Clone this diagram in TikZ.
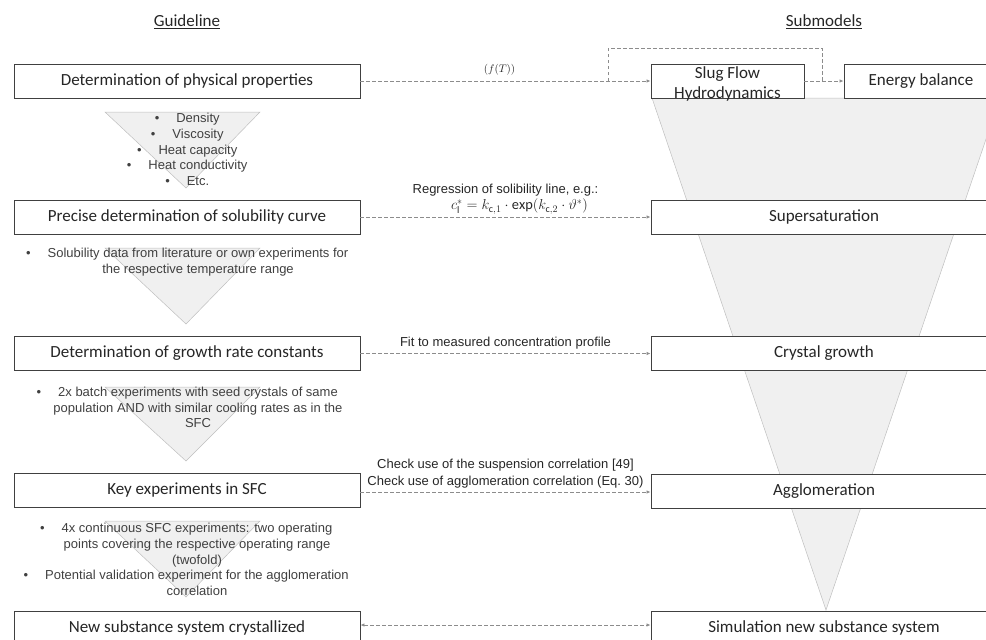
\documentclass[tikz,border=0pt]{standalone}
\usepackage{fontspec}
\setmainfont{Carlito}
\newfontfamily\arialf{Liberation Sans}
\usetikzlibrary{arrows.meta}
\definecolor{boxc}{HTML}{404040}
\definecolor{txt}{HTML}{262626}
\definecolor{notec}{HTML}{404040}
\definecolor{dashc}{HTML}{8C8C8C}
\definecolor{funf}{HTML}{F0F0F0}
\definecolor{fund}{HTML}{BFBFBF}
\begin{document}
\begin{tikzpicture}[x=1pt,y=-1pt,
  boxtext/.style={font=\fontsize{17}{20}\selectfont, text=txt, inner sep=0pt, align=center},
  box/.style={draw=boxc, fill=white, line width=0.9pt, minimum height=34pt, inner sep=0pt, boxtext},
  lbox/.style={box, minimum width=346pt},
  sbox/.style={box, minimum width=153pt},
  rbox/.style={box, minimum width=346pt},
  funnel/.style={fill=funf, draw=fund, line width=0.5pt},
  lnk/.style={draw=dashc, dash pattern=on 3.5pt off 2.5pt, line width=0.8pt},
  tip/.style={-{Latex[length=4pt,width=3.5pt]}},
  note/.style={font=\arialf\fontsize{13}{15.8}\selectfont, text=notec, align=center, inner sep=0pt},
  lbl/.style={font=\arialf\fontsize{13}{17}\selectfont, text=txt, align=center, inner sep=0pt},
  mlbl/.style={font=\fontsize{14.4}{16}\selectfont, text=txt, inner sep=0pt},
  head/.style={font=\fontsize{17}{20}\selectfont, text=txt, inner sep=0pt},
]
\useasboundingbox (0,0) rectangle (986,640);

% funnels
\draw[funnel] (652,98) -- (1000,98) -- (826,610) -- cycle;
\draw[funnel] (105,112) -- (260,112) -- (186,188) -- cycle;
\draw[funnel] (105,248) -- (260,248) -- (186,324) -- cycle;
\draw[funnel] (105,387) -- (260,387) -- (186,461) -- cycle;
\draw[funnel] (105,521) -- (260,521) -- (186,597) -- cycle;

% headers
\node[head] (hg) at (187,22) {\underline{Guideline}};
\node[head] (hs) at (824,22) {\underline{Submodels}};

% left boxes
\node[lbox] (l1) at (187,81) {Determination of physical properties};
\node[lbox] (l2) at (187,217) {Precise determination of solubility curve};
\node[lbox] (l3) at (187,353.5) {Determination of growth rate constants};
\node[lbox] (l4) at (187,490.5) {Key experiments in SFC};
\node[lbox] (l5) at (187,628) {New substance system crystallized};

% right boxes
\node[sbox] (r1) at (727.5,81) {};
\node[boxtext] (r1t) at (727.5,84) {Slug Flow\\Hydrodynamics};
\node[sbox, minimum width=154pt] (e1) at (921,81) {Energy balance};
\node[rbox] (r2) at (824,217) {Supersaturation};
\node[rbox] (r3) at (824,353.5) {Crystal growth};
\node[rbox] (r4) at (824,491.5) {Agglomeration};
\node[rbox] (r5) at (824,628) {Simulation new substance system};

% notes
\newcommand{\bl}{\llap{\textbullet\hspace{17pt}}}
\node[note] (n1) at (198,149.5) {\bl Density\\\bl Viscosity\\\bl Heat capacity\\\bl Heat conductivity\\\bl Etc.};
\node[note] (n2) at (198,262) {\bl Solubility data from literature or own experiments for\\the respective temperature range};
\node[note] (n3) at (198,407.5) {\bl 2x batch experiments with seed crystals of same\\population AND with similar cooling rates as in the\\SFC};
\node[note] (n4) at (197,559.5) {\bl 4x continuous SFC experiments: two operating\\points covering the respective operating range\\(twofold)\\\bl Potential validation experiment for the agglomeration\\correlation};

% connectors
\draw[lnk, tip] (l1.east) -- coordinate[pos=0.5] (m1) (r1.west);
\node[mlbl, font=\fontsize{10.95}{13}\selectfont] (t1) at ([xshift=-6pt,yshift=11pt]m1) {$(f(T))$};
\coordinate (u1) at (608,81);
\coordinate (u2) at (822,81);
\draw[lnk] (u1) -- (608,48) -- (822,48) -- (u2);
\draw[lnk, tip] (r1.east) -- (e1.west);

\draw[lnk, tip] (l2.east) -- coordinate[pos=0.5] (m2) (r2.west);
\node[lbl] (t2) at ([yshift=27pt]m2) {Regression of solibility line, e.g.:};
\node[mlbl] (t2b) at ([xshift=14pt,yshift=10.5pt]m2) {$c_\mathrm{l}^{*}=k_{\mathrm{c},1}\cdot\exp\bigl(k_{\mathrm{c},2}\cdot\vartheta^{*}\bigr)$};

\draw[lnk, tip] (l3.east) -- coordinate[pos=0.5] (m3) (r3.west);
\node[lbl] (t3) at ([yshift=10pt]m3) {Fit to measured concentration profile};

\draw[lnk, tip] (l4.east |- 0,492) -- coordinate[pos=0.5] (m4) (r4.west |- 0,492);
\node[lbl] (t4) at ([yshift=18.5pt]m4) {Check use of the suspension correlation [49]\\Check use of agglomeration correlation (Eq.~30)};

\draw[lnk, {Latex[length=4pt,width=3.5pt]}-{Latex[length=4pt,width=3.5pt]}] (l5.east |- 0,625) -- (r5.west |- 0,625);
\end{tikzpicture}
\end{document}
